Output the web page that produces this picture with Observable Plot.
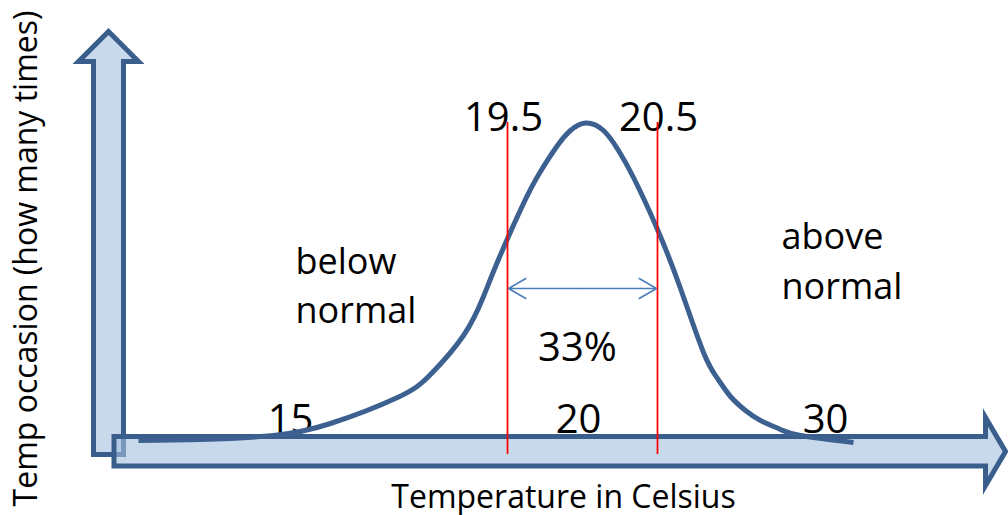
<!DOCTYPE html>
<html>
<head>
<meta charset="utf-8">
<script src="https://cdn.jsdelivr.net/npm/d3@7"></script>
<script src="https://cdn.jsdelivr.net/npm/@observablehq/plot@0.6"></script>
<style>
  html, body { margin: 0; padding: 0; background: #ffffff; }
  #chart { width: 1008px; height: 515px; overflow: hidden; }
</style>
</head>
<body>
<div id="chart"></div>
<script>
// Schematic coordinates: x = position along the temperature arrow, y = height above the axis
const curveX = [30, 92, 165, 222, 289, 322, 355, 375, 390, 415, 432, 449, 462, 477, 495, 510, 525, 549, 572, 595, 609, 622, 637, 652, 672, 692, 745];
const curveY = [11, 12, 16, 28, 54, 77, 116, 155, 192, 248, 280, 306, 321, 328.5, 321, 301, 274, 222, 163, 99, 73, 55, 41, 31, 22, 16, 9];

const boundLabels = ["19.5", "20.5"];
const boundLabelX = [395, 550];
const boundLineX = [399, 549];
const boundLineBottom = -3;
const boundLineTop = 329;

const tickLabels = ["15", "20", "30"];
const tickX = [182, 470, 717];
const tickY = 19;

const shareLabel = "33%";
const shareX = 469, shareY = 91;
const spanY = 163, spanMid = 474;

const zoneLabels = ["below", "normal", "above", "normal"];
const zoneX = [187, 187, 673, 673];
const zoneY = [178, 129, 203, 153];

const xTitle = "Temperature in Celsius";
const yTitle = "Temp occasion (how many times)";

// Block arrows (outline vertices)
const vArrowX = [0, -15, -15, -30, 0, 30, 15, 15, 0];
const vArrowY = [-3, -3, 390, 390, 420, 390, 390, -3, -3];
const hArrowX = [5.5, 5.5, 877, 877, 897, 877, 877, 5.5, 5.5];
const hArrowY = [0, 15, 15, 34, 0, -34, -14.5, -14.5, 0];

const pts = (xs, ys) => xs.map((x, i) => ({x, y: ys[i]}));
const dark = "#3a5e8c";
const font = "'Open Sans', 'Noto Sans', sans-serif";

const chart = Plot.plot({
  width: 1008,
  height: 515,
  margin: 0,
  x: {domain: [-108, 900], axis: null},
  y: {domain: [-64, 451], axis: null},
  style: {fontFamily: font, background: "#ffffff", overflow: "hidden"},
  marks: [
    Plot.line(pts(vArrowX, vArrowY), {x: "x", y: "y", fill: "#c9d9ec", stroke: dark, strokeWidth: 5, strokeLinejoin: "miter", strokeMiterlimit: 10, strokeLinecap: "butt"}),
    Plot.text(tickLabels, {x: (d, i) => tickX[i], y: tickY, text: d => d, fontSize: 40, lineAnchor: "bottom", textAnchor: "middle", fill: "#000"}),
    Plot.line(pts(hArrowX, hArrowY), {x: "x", y: "y", fill: "#a5c0df", fillOpacity: 0.6, stroke: dark, strokeWidth: 5, strokeLinejoin: "miter", strokeMiterlimit: 10, strokeLinecap: "butt"}),
    Plot.text(boundLabels, {x: (d, i) => boundLabelX[i], y: 321, text: d => d, fontSize: 40, lineAnchor: "bottom", textAnchor: "middle", fill: "#000"}),
    Plot.text([shareLabel], {x: shareX, y: shareY, text: d => d, fontSize: 40, lineAnchor: "bottom", textAnchor: "middle", fill: "#000"}),
    Plot.text(zoneLabels, {x: (d, i) => zoneX[i], y: (d, i) => zoneY[i], text: d => d, fontSize: 36, lineAnchor: "bottom", textAnchor: "start", fill: "#000"}),
    Plot.text([xTitle], {x: 455, y: -56, text: d => d, fontSize: 32, lineAnchor: "bottom", textAnchor: "middle", fill: "#000"}),
    Plot.text([yTitle], {x: -72, y: 193, text: d => d, fontSize: 32, rotate: -90, lineAnchor: "bottom", textAnchor: "middle", fill: "#000"}),
    Plot.line(pts(curveX, curveY), {x: "x", y: "y", curve: "natural", stroke: "#3c6090", strokeWidth: 5, strokeLinecap: "butt"}),
    Plot.ruleX(boundLineX, {x: d => d, y1: boundLineBottom, y2: boundLineTop, stroke: "#ff0000", strokeWidth: 1.75}),
    Plot.arrow(boundLineX, {x1: spanMid, y1: spanY, x2: d => d + (d < spanMid ? 1 : -1), y2: spanY, stroke: "#4a7ebb", strokeWidth: 1.5, headLength: 20, headAngle: 60})
  ]
});
document.getElementById("chart").appendChild(chart);
</script>
</body>
</html>
